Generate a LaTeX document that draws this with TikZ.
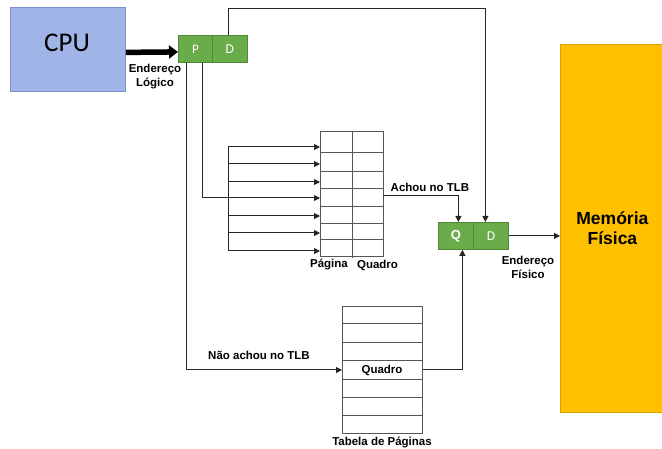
\documentclass[tikz,border=0pt]{standalone}
\usepackage{fontspec}
\setmainfont{Liberation Sans}
\newfontfamily\carl{Carlito}
\usetikzlibrary{arrows.meta}
\definecolor{cpublue}{HTML}{A0B4E8}
\definecolor{cpuedge}{HTML}{7590CC}
\definecolor{grn}{HTML}{6AAB4A}
\definecolor{grnedge}{HTML}{4E8A34}
\definecolor{memfill}{HTML}{FFC000}
\definecolor{memedge}{HTML}{D9A200}
\definecolor{tline}{HTML}{555555}
\begin{document}
\begin{tikzpicture}[x=1pt,y=-1pt,
  lbl/.style={font=\bfseries\fontsize{11.5}{14}\selectfont, align=center, inner sep=0},
  gbox/.style={draw=grnedge, fill=grn, text=white, minimum height=27pt, inner sep=0, anchor=north west, line width=0.8pt},
  tbl/.style={draw=tline, line width=1pt, inner sep=0, anchor=north west},
  tl/.style={draw=tline, line width=1pt},
  conn/.style={draw=black!85, line width=1pt},
  arr/.style={conn, -{Triangle[length=6pt,width=6pt]}},
  bigarr/.style={draw=black, line width=5.5pt, -{Triangle[length=9pt,width=13pt]}}]
\useasboundingbox (0,0) rectangle (662,449);

% CPU
\node[draw=cpuedge, fill=cpublue, line width=0.8pt, minimum width=115pt, minimum height=84pt, anchor=north west, inner sep=0] (cpu) at (10,7) {};
\node[inner sep=0, font=\carl\fontsize{27}{27}\selectfont] (cputxt) at (67,43) {CPU};

% P | D
\node[gbox, minimum width=34pt, font=\carl\fontsize{13}{13}\selectfont] (p) at (178,35) {P};
\node[gbox, minimum width=35pt, font=\carl\fontsize{13.5}{13}\selectfont] (d) at (212,35) {D};

\draw[bigarr] ([yshift=-3pt]cpu.east) -- ([yshift=-3pt]p.west);
\node[lbl] (endlog) at (155,77) {Endereço\\Lógico};

% TLB
\node[tbl, minimum width=63pt, minimum height=125pt] (tlb) at (320,131) {};
\foreach \yy in {153,172,189,207,224,240} \draw[tl] (320,\yy) -- (383,\yy);
\draw[tl] (352,131) -- (352,258);
\node[lbl] (pag) at (329,265) {Página};
\node[lbl] (quad) at (377.5,265) {Quadro};

% bus
\coordinate (bustop) at (228,147);
\coordinate (busbot) at (228,251);
\coordinate (busmid) at (228,198);
\draw[conn] (bustop) -- (busbot);
\foreach \yy in {147,164,182,198,216,233,251}
  \draw[arr] (228,\yy) -- (tlb.west |- 0,\yy);
\draw[conn] ([xshift=7pt]p.south) |- (busmid);

% Q | D
\node[gbox, minimum width=35pt, font=\bfseries\fontsize{13}{13}\selectfont] (q) at (438,222) {Q};
\node[gbox, minimum width=35pt, font=\carl\fontsize{13.5}{13}\selectfont] (d2) at (473,222) {D};

% Memory
\node[draw=memedge, fill=memfill, line width=0.8pt, minimum width=104pt, minimum height=368pt, anchor=north west, inner sep=0, align=center, font=\bfseries\fontsize{17.5}{20}\selectfont] (mem) at (560,44) {Memória\\Física};

% top line D -> D2
\draw[arr] ([xshift=-1.5pt]d.north) -- ++(0,-26) -| ([xshift=-5.5pt]d2.north);

% Achou no TLB
\coordinate (ach) at (383,196);
\draw[arr] (ach) -| ([xshift=2.5pt]q.north);
\node[lbl] (achlbl) at (430,187) {Achou no TLB};

% physical address
\draw[arr] (d2.east) -- (mem.west |- d2.east);
\node[lbl] (endfis) at (528,267) {Endereço\\Físico};

% Tabela de Paginas
\node[tbl, minimum width=80pt, minimum height=127pt] (pt) at (342,306) {};
\foreach \yy in {324,343,361,379,397,415} \draw[tl] (342,\yy) -- (422,\yy);
\node[lbl] (ptq) at (382,370) {Quadro};
\node[lbl] (ptlbl) at (382,443) {Tabela de Páginas};

\draw[arr] ([xshift=-9pt]p.south) |- (pt.west);
\node[lbl] (nao) at (259,355) {Não achou no TLB};
\draw[arr] (pt.east) -| ([xshift=6.5pt]q.south);
\end{tikzpicture}
\end{document}
